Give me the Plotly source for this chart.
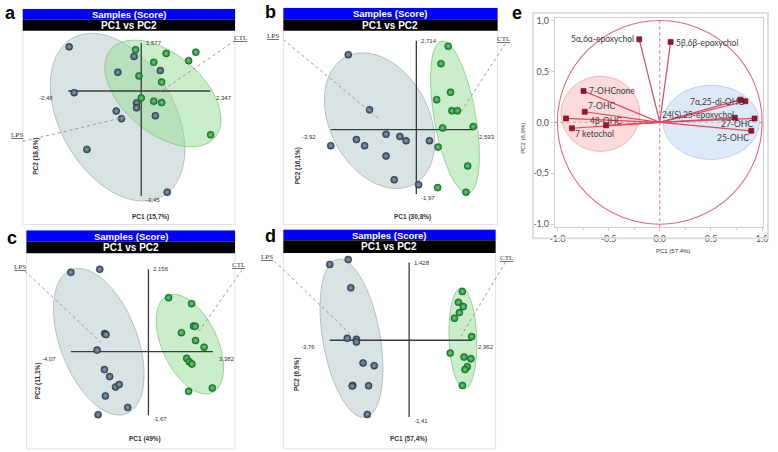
import numpy as np
import plotly.graph_objects as go

W, H = 778, 452

# ---- score plots a-d : PC1 / PC2 of each sample ----
a_lps_pc1 = [-2.45, -0.245, -0.795, -2.28, -0.158, -0.158, -0.849, -0.671, 0.48, 0.648, -1.846, 0.883]
a_lps_pc2 = [1.45, 1.136, 0.617, -0.055, -0.39, -0.552, -0.659, -0.909, -0.812, 0.672, -1.916, -3.32]
a_ctl_pc1 = [-0.191, 0.849, 1.856, 0.426, 1.611, -0.077, 0.695, 0.0, 0.426, 0.695, 2.359]
a_ctl_pc2 = [1.354, 1.234, 1.276, 0.942, 0.997, 0.497, 0.292, -0.227, -0.334, -0.38, -1.438]

b_lps_pc1 = [-3.122, -2.145, -3.923, -2.747, -2.371, -1.389, -0.756, -0.471, -1.389, -1.014, 0.104, 0.602]
b_lps_pc2 = [2.287, 0.604, -0.492, -0.302, -0.492, -0.142, -0.211, -0.341, -0.807, -1.532, -1.683, -0.341]
b_ctl_pc1 = [1.462, 1.131, 1.566, 0.932, 1.629, 1.882, 1.204, 2.606, 0.995, 2.353, 0.977, 2.276]
b_ctl_pc2 = [2.547, 2.015, 1.139, 0.915, 0.574, 0.574, 0.051, 0.091, -0.535, -1.109, -1.773, -1.912]

c_lps_pc1 = [-4.068, -2.552, -2.293, -2.226, -2.692, -2.308, -2.034, -1.724, -1.532, -2.257, -1.087, -2.64]
c_lps_pc2 = [2.078, 2.155, 0.472, 0.446, 0.039, -0.472, -0.653, -0.927, -0.86, -1.161, -1.464, -1.653]
c_ctl_pc1 = [1.056, 2.262, 2.365, 2.453, 1.729, 2.469, 2.919, 2.003, 2.143, 2.277, 3.349, 2.107]
c_ctl_pc2 = [1.412, 1.256, 0.668, 0.661, 0.497, 0.29, 0.117, -0.176, -0.264, -0.324, -0.953, -1.041]

d_lps_pc1 = [-3.761, -2.886, -2.764, -2.933, -2.498, -2.498, -2.184, -1.656, -2.671, -2.699, -1.922, -1.983]
d_lps_pc2 = [1.395, 1.486, 0.964, 0.036, 0.018, -0.031, -0.418, -0.468, -0.831, -0.842, -0.837, -1.364]
d_ctl_pc1 = [2.521, 2.334, 2.568, 2.381, 2.147, 2.961, 1.946, 2.601, 2.928, 2.755, 2.647, 2.521]
d_ctl_pc2 = [0.897, 0.697, 0.619, 0.509, 0.406, 0.067, -0.236, -0.309, -0.34, -0.486, -0.54, -0.831]

# axis extents printed at the ends of the cross (xmin, xmax, ymin, ymax)
a_ext = (-2.48, 2.347, -3.45, 1.577)
b_ext = (-3.92, 2.593, -1.97, 2.714)
c_ext = (-4.07, 3.382, -1.67, 2.156)
d_ext = (-3.76, 2.962, -1.41, 1.428)

a_titles = ("PC1 (15,7%)", "PC2 (18,6%)")
b_titles = ("PC1 (30,8%)", "PC2 (16,1%)")
c_titles = ("PC1 (49%)", "PC2 (11,1%)")
d_titles = ("PC1 (57,4%)", "PC2 (6,9%)")

# group ellipse centres (PC1, PC2): LPS, CTL
a_centres = ((-0.805, -0.86), (0.738, -0.081))
b_centres = ((-1.683, 0.272), (1.769, 0.378))
c_centres = ((-2.604, 0.259), (2.174, 0.194))
d_centres = ((-2.732, 0.036), (2.547, 0.036))

# ---- loading plot e ----
e_names = ["5α,6α-epoxychol", "5β,6β-epoxychol", "7-OHCnone", "7-OHC", "", "7 ketochol", "4β-OHC",
           "7α,25-di-OHC", "", "24(S),25-epoxychol", "27-OHC", "25-OHC"]
e_pc1 = [-0.20, 0.106, -0.745, -0.733, -0.916, -0.858, -0.524, 0.836, 0.788, 0.733, 0.926, 0.894]
e_pc2 = [0.815, 0.79, 0.308, 0.104, 0.039, -0.058, -0.029, 0.207, 0.223, 0.045, 0.039, -0.083]
e_groups = ((-0.579, 0.084, 0.386, 0.369), (0.502, 0.0, 0.47, 0.364))  # cx, cy, rx, ry

# label placement for e (xanchor, xshift, yshift)
e_lab_pos = [("right", -3, 0), ("left", 3, -1), ("left", 3, 0), ("left", 1, 6), None, ("left", 1, -6),
             ("center", 0, 4), ("right", 1, -1), None, ("right", 1, 3), ("right", 0, -6), ("right", 0, -7)]


def pp(x, y):
    return x / W, 1 - y / H


def ellipse_path(cx, cy, a, b, ang, sx, sy, n=120):
    t = np.linspace(0, 2 * np.pi, n)
    th = np.radians(ang)
    dx = a * np.cos(t) * np.cos(th) - b * np.sin(t) * np.sin(th)
    dy = a * np.cos(t) * np.sin(th) + b * np.sin(t) * np.cos(th)
    xs = cx + dx / sx
    ys = cy + dy / sy
    return "M " + " L ".join(f"{x:.4f},{y:.4f}" for x, y in zip(xs, ys)) + " Z"


def note(text, x, y, size, color="#333333", family="Arial", **kw):
    d = dict(text=text, x=x, y=y, showarrow=False, xanchor="center", yanchor="middle",
             font=dict(size=size, color=color, family=family), xref="paper", yref="paper")
    d.update(kw)
    return d


panels = [
    dict(letter="a", box=(18, 28, 233, 223), o=(138, 89), s=(29.8, 30.8), bars=(6, 17, 28), lp=(6, 10),
         lps=(12, 133), lps_line=((18, 140), (123, 115)), ctl=(239, 35), ctl_line=((233, 38), (157, 90)),
         t1=(147, 216), t2=(32, 155), ell=((92, 58, -60), (69, 40, -40)),
         data=(a_lps_pc1, a_lps_pc2, a_ctl_pc1, a_ctl_pc2), ext=a_ext, titles=a_titles, cen=a_centres),
    dict(letter="b", box=(282, 28, 499, 223), o=(416.7, 128), s=(22.1, 33.1), bars=(5, 16.5, 28), lp=(269, 9),
         lps=(271, 33), lps_line=((282, 37), (380, 118)), ctl=(505, 36), ctl_line=((507, 41), (460, 113)),
         t1=(413, 216), t2=(297, 165), ell=((73, 50, -62), (78, 21, -80)),
         data=(b_lps_pc1, b_lps_pc2, b_ctl_pc1, b_ctl_pc2), ext=b_ext, titles=b_titles, cen=b_centres),
    dict(letter="c", box=(21.7, 253, 233, 450), o=(145.3, 352.5), s=(19.32, 38.6), bars=(230, 241.5, 253),
         lp=(7, 238), lps=(15, 266.5), lps_line=((20, 271), (97, 343)), ctl=(237, 265),
         ctl_line=((240, 270), (195, 334)), t1=(142, 441), t2=(33, 382), ell=((78, 39, -69), (54, 28, -65)),
         data=(c_lps_pc1, c_lps_pc2, c_ctl_pc1, c_ctl_pc2), ext=c_ext, titles=c_titles, cen=c_centres),
    dict(letter="d", box=(282, 253, 497, 450), o=(409.4, 341), s=(21.38, 54.97), bars=(229.3, 240, 252.7),
         lp=(269, 236), lps=(265, 256.5), lps_line=((273, 261), (350, 335)), ctl=(508, 258),
         ctl_line=((507, 262), (462, 337)), t1=(409, 441), t2=(296, 375), ell=((81, 29, -80), (51, 14, -88)),
         data=(d_lps_pc1, d_lps_pc2, d_ctl_pc1, d_ctl_pc2), ext=d_ext, titles=d_titles, cen=d_centres),
]

fig = go.Figure()
shapes = []
annos = []
layout_axes = {}

for i, p in enumerate(panels, start=1):
    xa = "x" if i == 1 else f"x{i}"
    ya = "y" if i == 1 else f"y{i}"
    L, T, R, B = p["box"]
    ox, oy = p["o"]
    sx, sy = p["s"]
    layout_axes["xaxis" if i == 1 else f"xaxis{i}"] = dict(
        domain=[L / W, R / W], range=[(L - ox) / sx, (R - ox) / sx], visible=False, anchor=ya)
    layout_axes["yaxis" if i == 1 else f"yaxis{i}"] = dict(
        domain=[1 - B / H, 1 - T / H], range=[(oy - B) / sy, (oy - T) / sy], visible=False, anchor=xa)

    # frame, title bars
    shapes.append(dict(type="rect", xref="paper", yref="paper", x0=L / W, x1=R / W,
                       y0=1 - (B + 1) / H, y1=1 - p["bars"][0] / H, line=dict(color="#e4e4e4", width=1)))
    shapes.append(dict(type="rect", xref="paper", yref="paper", x0=L / W, x1=R / W,
                       y0=1 - p["bars"][1] / H, y1=1 - p["bars"][0] / H, fillcolor="#0000ff", line_width=0))
    shapes.append(dict(type="rect", xref="paper", yref="paper", x0=L / W, x1=R / W,
                       y0=1 - p["bars"][2] / H, y1=1 - p["bars"][1] / H, fillcolor="#000000", line_width=0))
    cx = (L + R) / 2 / W
    annos.append(note("<b>Samples (Score)</b>", cx, 1 - (p["bars"][0] + p["bars"][1]) / 2 / H, 9.5, "white"))
    annos.append(note("<b>PC1 vs PC2</b>", cx, 1 - (p["bars"][1] + p["bars"][2]) / 2 / H, 10, "white"))
    annos.append(note(f"<b>{p['letter']}</b>", *pp(*p["lp"]), 18, "black"))

    # group ellipses
    fills = [("rgba(192,206,209,0.58)", "rgba(135,155,162,0.7)"), ("rgba(150,222,150,0.5)", "rgba(105,190,105,0.8)")]
    for (ccx, ccy), (ea, eb, eang), (fc, lc) in zip(p["cen"], p["ell"], fills):
        shapes.append(dict(type="path", xref=xa, yref=ya, path=ellipse_path(ccx, ccy, ea, eb, eang, sx, sy),
                           fillcolor=fc, line=dict(color=lc, width=0.8), layer="below"))

    # cross axes
    xmin, xmax, ymin, ymax = p["ext"]
    shapes.append(dict(type="line", xref=xa, yref=ya, x0=xmin, x1=xmax, y0=0, y1=0,
                       line=dict(color="#3a3a3a", width=1.3), layer="below"))
    shapes.append(dict(type="line", xref=xa, yref=ya, x0=0, x1=0, y0=ymin, y1=ymax,
                       line=dict(color="#3a3a3a", width=1.3), layer="below"))
    lab = lambda v: str(v).replace(".", ",")
    annos += [
        note(lab(ymax), 0, ymax, 6, xref=xa, yref=ya, xanchor="left", xshift=3),
        note(lab(ymin), 0, ymin, 6, xref=xa, yref=ya, xanchor="left", xshift=3, yshift=-4),
        note(lab(xmin), xmin, 0, 6, xref=xa, yref=ya, xanchor="right", xshift=-13, yshift=-7),
        note(lab(xmax), xmax, 0, 6, xref=xa, yref=ya, xanchor="left", xshift=4, yshift=-7),
    ]
    annos.append(note(f"<b>{p['titles'][0]}</b>", *pp(*p["t1"]), 6.5))
    annos.append(note(f"<b>{p['titles'][1]}</b>", *pp(*p["t2"]), 6.5, textangle=-90))

    # group labels with dotted leaders
    for key in ("lps", "ctl"):
        (x0, y0), (x1, y1) = p[key + "_line"]
        shapes.append(dict(type="line", xref="paper", yref="paper", x0=x0 / W, y0=1 - y0 / H,
                           x1=x1 / W, y1=1 - y1 / H, line=dict(color="#9a9a9a", width=1, dash="dot")))
        annos.append(note(f"<u>{key.upper()}</u>", *pp(*p[key]), 7, family="Liberation Serif"))

    lps1, lps2, ctl1, ctl2 = p["data"]
    fig.add_trace(go.Scatter(x=lps1, y=lps2, mode="markers", xaxis=xa, yaxis=ya, showlegend=False,
                             marker=dict(size=7, color="#33475a", line=dict(color="#26333f", width=0.6),
                                         gradient=dict(type="radial", color="#8ea3b5"))))
    fig.add_trace(go.Scatter(x=ctl1, y=ctl2, mode="markers", xaxis=xa, yaxis=ya, showlegend=False,
                             marker=dict(size=7, color="#167a2a", line=dict(color="#135f22", width=0.6),
                                         gradient=dict(type="radial", color="#6fd67e"))))

# ---- panel e ----
EL, ET, ER, EB = 557, 15, 768, 227
eox, eoy, esx, esy = 663.3, 120.7, 103.7, 103.0
layout_axes["xaxis5"] = dict(
    domain=[EL / W, ER / W], range=[(EL - eox) / esx, (ER - eox) / esx], anchor="y5",
    tickvals=[-1, -0.5, 0, 0.5, 1], ticktext=["-1.0", "-0.5", "0.0", "0.5", "1.0"],
    showline=True, linecolor="#cfcfcf", mirror=True, ticks="outside", ticklen=3, tickcolor="#cfcfcf",
    showgrid=False, zeroline=False, tickfont=dict(size=9, color="#555555", family="Lato"),
    minor=dict(dtick=0.25, ticks="outside", ticklen=2, tickcolor="#cfcfcf"))
layout_axes["yaxis5"] = dict(
    domain=[1 - EB / H, 1 - ET / H], range=[(eoy - EB) / esy, (eoy - ET) / esy], anchor="x5",
    tickvals=[-1, -0.5, 0, 0.5, 1], ticktext=["-1,0", "-0,5", "0,0", "0,5", "1,0"],
    showline=True, linecolor="#cfcfcf", mirror=True, ticks="outside", ticklen=3, tickcolor="#cfcfcf",
    showgrid=False, zeroline=False, tickfont=dict(size=9, color="#555555", family="Lato"))

shapes.append(dict(type="rect", xref="paper", yref="paper", x0=535 / W, x1=773 / W, y0=1 - 238 / H,
                   y1=1 - 10 / H, line=dict(color="#dedede", width=2)))
for (gcx, gcy, grx, gry), fc, lc in zip(e_groups, ["rgba(248,190,190,0.55)", "rgba(200,218,242,0.6)"],
                                        ["rgba(240,150,150,0.8)", "rgba(170,195,230,0.9)"]):
    shapes.append(dict(type="circle", xref="x5", yref="y5", x0=gcx - grx, x1=gcx + grx, y0=gcy - gry,
                       y1=gcy + gry, fillcolor=fc, line=dict(color=lc, width=0.8), layer="below"))
shapes.append(dict(type="circle", xref="x5", yref="y5", x0=-1, x1=1, y0=-1, y1=1,
                   line=dict(color="#e26a78", width=1.1), layer="below"))
shapes.append(dict(type="line", xref="x5", yref="paper", x0=0, x1=0, y0=1 - EB / H, y1=1 - ET / H,
                   line=dict(color="#e26a78", width=1, dash="dot"), layer="below"))
shapes.append(dict(type="line", xref="paper", yref="y5", x0=EL / W, x1=ER / W, y0=0, y1=0,
                   line=dict(color="#e26a78", width=1, dash="dot"), layer="below"))

vx, vy = [], []
for x, y in zip(e_pc1, e_pc2):
    vx += [0, x, None]
    vy += [0, y, None]
fig.add_trace(go.Scatter(x=vx, y=vy, mode="lines", xaxis="x5", yaxis="y5", showlegend=False,
                         line=dict(color="#e0485a", width=1.2)))
fig.add_trace(go.Scatter(x=e_pc1, y=e_pc2, mode="markers", xaxis="x5", yaxis="y5", showlegend=False,
                         marker=dict(symbol="square", size=5, color="#a3122c",
                                     line=dict(color="#5e0a18", width=0.6))))

for name, x, y, pos in zip(e_names, e_pc1, e_pc2, e_lab_pos):
    if not name or pos is None:
        continue
    xanc, xs, ys = pos
    annos.append(note(name, x, y, 8.5, "#3a3a3a", "Lato", xref="x5", yref="y5",
                      xanchor=xanc, xshift=xs, yshift=ys))

annos.append(note("<b>e</b>", 519 / W, 1 - 10 / H, 18, "black"))
annos.append(note("PC1 (57,4%)", 677 / W, 1 - 251 / H, 6))
annos.append(note("PC2 (6,9%)", 525 / W, 1 - 137 / H, 6, textangle=-90))

fig.update_layout(width=W, height=H, margin=dict(l=0, r=0, t=0, b=0), paper_bgcolor="white",
                  plot_bgcolor="white", shapes=shapes, annotations=annos, showlegend=False, **layout_axes)

# the page body has a default 8px margin; drop it so the figure sits at the window origin
fig.write_html("out.html", config={"displayModeBar": False},
               post_script="document.body.style.margin='0';")
